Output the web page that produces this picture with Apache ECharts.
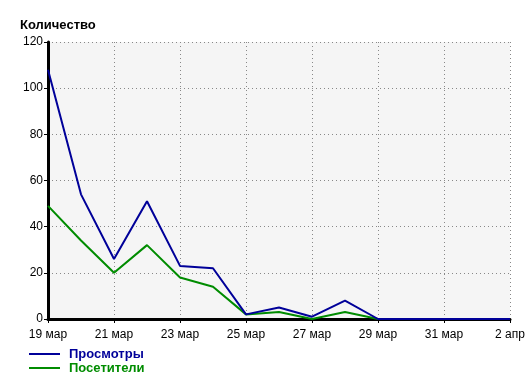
<!DOCTYPE html>
<html>
<head>
<meta charset="utf-8">
<script src="https://cdn.jsdelivr.net/npm/echarts@6/dist/echarts.min.js"></script>
<style>html,body{margin:0;padding:0;background:#fff}#c{width:532px;height:381px}</style>
</head>
<body>
<div id="c"></div>
<script>
const categories = ['19 мар','20 мар','21 мар','22 мар','23 мар','24 мар','25 мар','26 мар','27 мар','28 мар','29 мар','30 мар','31 мар','1 апр','2 апр'];
const views = [108, 54, 26, 51, 23, 22, 2, 5, 1, 8, 0, 0, 0, 0, 0];
const visitors = [49, 34, 20, 32, 18, 14, 2, 3, 0, 3, 0, 0, 0, 0, 0];
const yTicks = [0, 20, 40, 60, 80, 100, 120];
const seriesNames = ['Просмотры', 'Посетители'];
const colors = ['#000099', '#008c00'];
const font = '"Liberation Sans", Arial, sans-serif';

const chart = echarts.init(document.getElementById('c'), null, {renderer: 'canvas'});
chart.setOption({
  animation: false,
  textStyle: {fontFamily: font},
  title: {
    text: 'Количество', left: 15, top: 14,
    textStyle: {fontSize: 13, fontWeight: 'bold', color: '#000', fontFamily: font}
  },
  grid: {
    left: 48, right: 22, top: 42, bottom: 62,
    show: true, backgroundColor: '#f5f5f5', borderWidth: 0
  },
  legend: {
    orient: 'vertical', left: 24, top: 342, height: 39,
    icon: 'rect', itemWidth: 31, itemHeight: 2, itemGap: 0,
    data: seriesNames.map((n, i) => ({name: n, textStyle: {color: colors[i]}})),
    textStyle: {fontSize: 13, fontWeight: 'bold', fontFamily: font, padding: [0, 0, 0, 4], lineHeight: 14}
  },
  xAxis: {
    type: 'category', data: categories, boundaryGap: false,
    offset: 1,
    axisLine: {lineStyle: {color: '#000', width: 3}},
    axisTick: {interval: 1, length: 4, lineStyle: {color: '#000', width: 1}},
    axisLabel: {interval: 1, color: '#000', fontSize: 12, margin: 9, fontFamily: font},
    splitLine: {show: true, interval: 1, lineStyle: {color: '#888', type: [1, 3], width: 1}}
  },
  yAxis: {
    type: 'value', min: yTicks[0], max: yTicks[yTicks.length - 1], interval: 20,
    axisLine: {show: true, lineStyle: {color: '#000', width: 3}},
    axisTick: {show: true, length: 4, lineStyle: {color: '#000', width: 1}},
    axisLabel: {color: '#000', fontSize: 12, margin: 5, fontFamily: font},
    splitLine: {show: true, lineStyle: {color: '#888', type: [1, 3], width: 1}}
  },
  series: [
    {name: seriesNames[0], type: 'line', data: views, symbol: 'none', z: 4,
     lineStyle: {color: colors[0], width: 2}, itemStyle: {color: colors[0]}},
    {name: seriesNames[1], type: 'line', data: visitors, symbol: 'none', z: 3,
     lineStyle: {color: colors[1], width: 2}, itemStyle: {color: colors[1]}}
  ]
});
</script>
</body>
</html>
